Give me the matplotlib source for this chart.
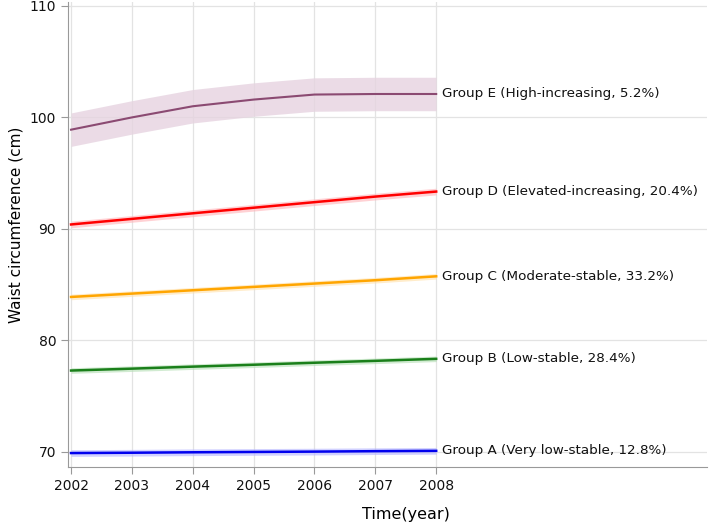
import matplotlib
matplotlib.use("Agg")
import matplotlib.pyplot as plt
import numpy as np

years = [2002, 2003, 2004, 2005, 2006, 2007, 2008]
group_e = [98.9, 100.0, 101.0, 101.6, 102.05, 102.1, 102.1]
group_d = [90.4, 90.9, 91.4, 91.9, 92.4, 92.9, 93.35]
group_c = [83.9, 84.2, 84.5, 84.8, 85.1, 85.4, 85.75]
group_b = [77.3, 77.47, 77.65, 77.82, 78.0, 78.17, 78.35]
group_a = [69.9, 69.93, 69.97, 70.0, 70.03, 70.07, 70.1]
ci_halfwidth = [1.5, 0.3, 0.25, 0.25, 0.3]
labels = ["Group E (High-increasing, 5.2%)",
          "Group D (Elevated-increasing, 20.4%)",
          "Group C (Moderate-stable, 33.2%)",
          "Group B (Low-stable, 28.4%)",
          "Group A (Very low-stable, 12.8%)"]
colors = ["#8b4a72", "#ff0000", "#ffa500", "#1a7f1a", "#0000ee"]
band_colors = ["#e6d3e0", "#ffb3b8", "#ffe0a8", "#b3deb3", "#b3b3ff"]

fig = plt.figure(figsize=(7.09, 5.22), dpi=100)
ax = fig.add_axes([68/709, 1 - 467/522, (707-68)/709, (467-2)/522])

series = [group_e, group_d, group_c, group_b, group_a]
for vals, hw, c, bc, lab in zip(series, ci_halfwidth, colors, band_colors, labels):
    v = np.array(vals)
    ax.fill_between(years, v - hw, v + hw, color=bc, alpha=0.8 if hw > 1 else 0.6, lw=0)
    ax.plot(years, v, color=c, lw=1.8 if hw < 1 else 1.5)
    ax.text(2008.1, v[-1], lab, va="center", ha="left", fontsize=9.7, color="#111111")

ax.set_xlim(2001.95, 2012.45)
ax.set_ylim(68.65, 110.35)
ax.set_xticks(years)
ax.set_yticks([70, 80, 90, 100, 110])
ax.grid(True, color="#e3e3e3", lw=0.9)
ax.set_axisbelow(True)
for s in ["top", "right"]:
    ax.spines[s].set_visible(False)
for s in ["left", "bottom"]:
    ax.spines[s].set_color("#999999")
ax.tick_params(colors="#999999", labelcolor="#111111", labelsize=10, length=5)
ax.set_xlabel("Time(year)", fontsize=11.5)
ax.xaxis.set_label_coords((2007.5 - 2001.95) / (2012.45 - 2001.95), -0.085)
ax.set_ylabel("Waist circumference (cm)", fontsize=11)
ax.yaxis.set_label_coords(-0.07, 0.52)

fig.savefig("out.png", dpi=100)
